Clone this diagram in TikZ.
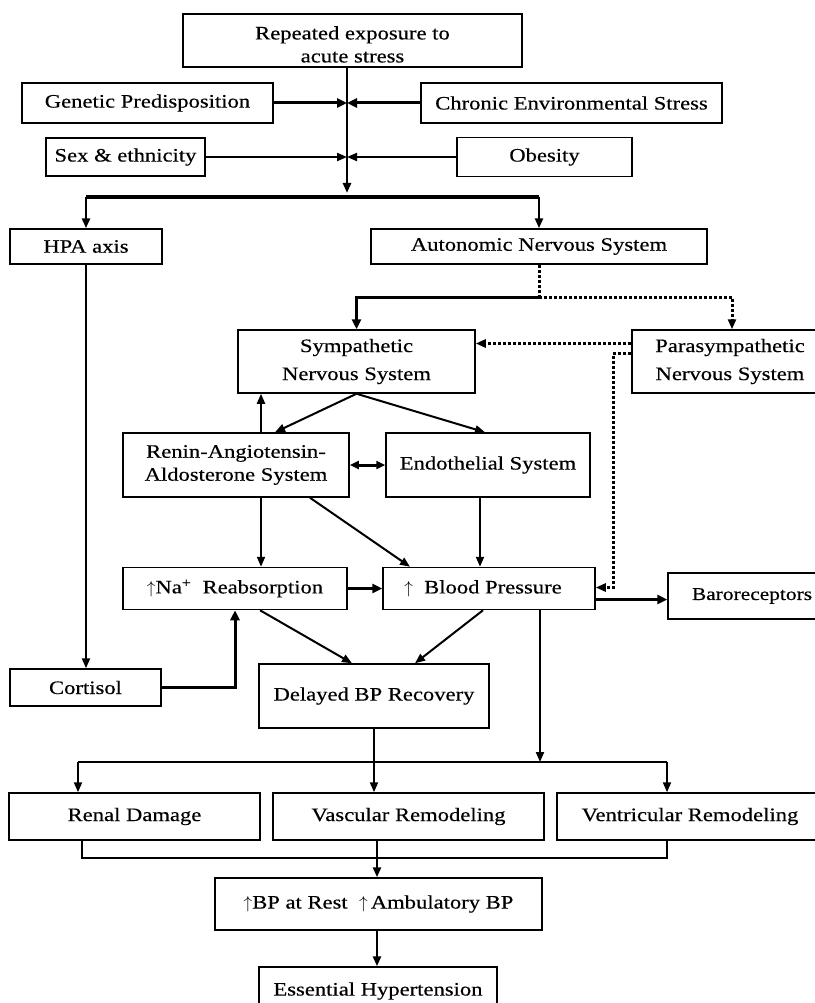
\documentclass[tikz,border=0pt]{standalone}
\usepackage{fontspec}
\setmainfont{Liberation Serif}[FakeStretch=1.19,FakeBold=0.4]
\usetikzlibrary{arrows.meta,positioning,calc}
\tikzset{
  hyp/box/.style={
    draw=black,
    line width=1.5pt,
    fill=white,
    align=center,
    inner sep=0pt,
    font=\fontsize{19}{23}\selectfont
  },
  hyp/arrow/.style={-{Triangle[length=10pt,width=8pt]}, line width=2pt},
  hyp/thickarrow/.style={-{Triangle[length=10pt,width=9pt]}, line width=3pt},
  hyp/both/.style={{Triangle[length=9pt,width=8pt]}-{Triangle[length=9pt,width=8pt]}, line width=3pt},
  hyp/dotarrow/.style={-{Triangle[length=10pt,width=8pt]}, line width=3pt, dash pattern=on 3pt off 2pt},
  hyp/dotline/.style={line width=3pt, dash pattern=on 3pt off 2pt},
  hyp/line/.style={line width=2pt}
}
\newcommand{\upar}{$\uparrow$}

\begin{document}
\begin{tikzpicture}[x=1pt,y=-1pt]
  \path[use as bounding box, fill=white] (0,0) rectangle (814,1003);

  \node[hyp/box,minimum width=339pt,minimum height=53pt] (acute) at (352.5,40.5) {\rule{0pt}{21pt}Repeated exposure to\\acute stress};
  \node[hyp/box,minimum width=251pt,minimum height=40pt] (genetic) at (147.5,103) {Genetic Predisposition};
  \node[hyp/box,minimum width=301pt,minimum height=40pt] (chronic) at (571.5,103) {Chronic Environmental Stress};
  \node[hyp/box,minimum width=159pt,minimum height=38pt] (sex) at (125.5,157) {Sex \& ethnicity};
  \node[hyp/box,minimum width=175pt,minimum height=39pt] (obesity) at (544.5,157) {Obesity};
  \node[hyp/box,minimum width=152pt,minimum height=35pt] (hpa) at (86,246.5) {HPA axis};
  \node[hyp/box,minimum width=336pt,minimum height=35pt] (ans) at (539,246.5) {Autonomic Nervous System};
  \node[hyp/box,minimum width=237pt,minimum height=63pt] (symp) at (356.5,361.5) {Sympathetic\\[5pt]Nervous System};
  \node[hyp/box,minimum width=196pt,minimum height=63pt] (para) at (730,361.5) {Parasympathetic\\[5pt]Nervous System};
  \node[hyp/box,minimum width=226pt,minimum height=64pt] (raas) at (236,465) {Renin-Angiotensin-\\Aldosterone System};
  \node[hyp/box,minimum width=204pt,minimum height=64pt] (endo) at (488,465) {Endothelial System};
  \node[hyp/box,minimum width=224pt,minimum height=42pt] (na) at (235,588.5) {\upar Na\textsuperscript{+}\ \ Reabsorption};
  \node[hyp/box,minimum width=212pt,minimum height=42pt] (bp) at (489,588.5) {\upar\ \ Blood Pressure\hspace{12pt}};
  \node[hyp/box,minimum width=178pt,minimum height=46pt,font=\fontsize{18}{22}\selectfont] (baro) at (757,596) {\hspace{-10pt}Baroreceptors};
  \node[hyp/box,minimum width=151pt,minimum height=37pt] (cortisol) at (85.5,687.5) {Cortisol};
  \node[hyp/box,minimum width=230pt,minimum height=64pt] (delayed) at (374,696) {Delayed BP Recovery};
  \node[hyp/box,minimum width=251pt,minimum height=47pt] (renal) at (134.5,816.5) {Renal Damage};
  \node[hyp/box,minimum width=271pt,minimum height=47pt] (vascular) at (408.5,816.5) {Vascular Remodeling};
  \node[hyp/box,minimum width=266pt,minimum height=47pt] (ventricular) at (690,816.5) {Ventricular Remodeling};
  \node[hyp/box,minimum width=327pt,minimum height=52pt] (rest) at (378.5,904) {\upar BP at Rest\ \ \upar\,Ambulatory BP};
  \node[hyp/box,minimum width=238pt,minimum height=48pt] (essential) at (378,991) {Essential Hypertension};

  \coordinate (hub) at (347,193);
  \coordinate (bar) at (347,197);
  \coordinate (split) at (539,297);
  \coordinate (distL) at (78,762);
  \coordinate (distR) at (667,762);
  \coordinate (collL) at (82,858);
  \coordinate (collR) at (667,858);

  \draw[hyp/arrow,line width=2.5pt] (acute.south -| hub) -- (hub);
  \draw[hyp/thickarrow] (genetic.east) -- (genetic.east -| hub);
  \draw[hyp/thickarrow] (chronic.west) -- (chronic.west -| hub);
  \draw[hyp/arrow] (sex.east) -- (sex.east -| hub);
  \draw[hyp/arrow] (obesity.west) -- (obesity.west -| hub);
  \draw[line width=3.5pt] (hpa.north |- bar) -- (ans.north |- bar);
  \draw[hyp/arrow,line width=2.5pt] (hpa.north |- bar) -- (hpa.north);
  \draw[hyp/arrow,line width=2.5pt] (ans.north |- bar) -- (ans.north);
  \draw[hyp/arrow] (hpa.south) -- (hpa.south |- cortisol.north);

  \draw[hyp/dotline] (ans.south) -- (split);
  \draw[hyp/thickarrow] (split) -| (symp.north);
  \draw[hyp/dotarrow] (split) -| ([xshift=2pt]para.north);
  \draw[hyp/dotarrow] ([yshift=18pt]para.west) -- ([yshift=18pt]symp.east);
  \draw[hyp/dotarrow] ([yshift=8pt]para.west) -- ++(-18,0) |- ([yshift=1pt]bp.east);

  \draw[hyp/arrow] (symp.south) -- ([xshift=39pt]raas.north);
  \draw[hyp/arrow] (symp.south) -- ([xshift=-3pt]endo.north);
  \draw[hyp/arrow] ([xshift=25pt]raas.north) -- ([xshift=25pt]raas.north |- symp.south);
  \draw[hyp/both] (raas.east) -- (endo.west);
  \draw[hyp/arrow] ([xshift=25pt]raas.south) -- ([xshift=25pt]raas.south |- na.north);
  \draw[hyp/arrow] ([xshift=74pt]raas.south) -- ([xshift=-79pt]bp.north);
  \draw[hyp/arrow] ([xshift=-8pt]endo.south) -- ([xshift=-8pt]endo.south |- bp.north);
  \draw[hyp/thickarrow] (na.east) -- (bp.west);
  \draw[hyp/thickarrow] ([yshift=-11pt]bp.east) -- ([yshift=-11pt]bp.east -| baro.west);

  \draw[hyp/arrow] ([xshift=25pt]na.south) -- ([xshift=-22pt]delayed.north);
  \draw[hyp/arrow] ([xshift=-6pt]bp.south) -- ([xshift=41pt]delayed.north);
  \draw[hyp/arrow] ([xshift=51pt]bp.south) -- ([xshift=51pt]bp.south |- distR);
  \draw[hyp/thickarrow] (cortisol.east) -| (na.south);

  \draw[hyp/line] (distL) -- (distR);
  \draw[hyp/arrow] (distL) -- (distL |- renal.north);
  \draw[hyp/arrow] (distR) -- (distR |- ventricular.north);
  \draw[hyp/arrow] (delayed.south) -- (delayed.south |- vascular.north);
  \draw[line width=1.5pt] (collL |- renal.south) -- (collL) -- (collR) -- (collR |- ventricular.south);
  \draw[hyp/arrow,line width=2.5pt] (vascular.south -| 377,0) -- (377,0 |- rest.north);
  \draw[hyp/arrow,line width=2.5pt] (rest.south -| 377,0) -- (377,0 |- essential.north);
\end{tikzpicture}
\end{document}
